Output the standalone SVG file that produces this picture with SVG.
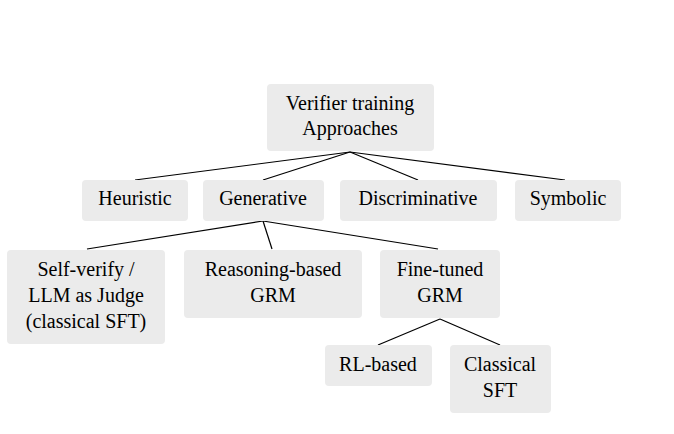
<svg xmlns="http://www.w3.org/2000/svg" width="674" height="434" viewBox="0 0 674 434">
<style>
rect{fill:#ebebeb;stroke:none}
text{font-family:"Liberation Serif",serif;font-size:20px;fill:#000;text-anchor:middle}
.c line{stroke:#000;stroke-width:1.2}
</style>
<rect width="674" height="434" fill="#fff" style="fill:#fff"/>
<g class="c">
<line x1="350" y1="152" x2="135" y2="180"/>
<line x1="350" y1="152" x2="263" y2="180"/>
<line x1="350" y1="152" x2="418" y2="180"/>
<line x1="350" y1="152" x2="565" y2="180"/>
<line x1="263" y1="221" x2="87" y2="249"/>
<line x1="263" y1="221" x2="272" y2="249"/>
<line x1="263" y1="221" x2="438" y2="249"/>
<line x1="440" y1="319" x2="378" y2="345"/>
<line x1="440" y1="319" x2="500" y2="345"/>
</g>
<g id="root"><rect x="267" y="84" width="167" height="67" rx="4"/><text x="350" y="110">Verifier training</text><text x="350" y="135">Approaches</text></g>
<g id="heuristic"><rect x="82" y="180" width="106" height="41" rx="4"/><text x="135" y="205">Heuristic</text></g>
<g id="generative"><rect x="203" y="180" width="121" height="41" rx="4"/><text x="263" y="205">Generative</text></g>
<g id="discriminative"><rect x="340" y="180" width="157" height="41" rx="4"/><text x="418" y="205">Discriminative</text></g>
<g id="symbolic"><rect x="515" y="180" width="106" height="41" rx="4"/><text x="568" y="205">Symbolic</text></g>
<g id="selfverify"><rect x="7" y="250" width="158" height="94" rx="4"/><text x="86" y="276">Self-verify /</text><text x="86" y="302">LLM as Judge</text><text x="86" y="328">(classical SFT)</text></g>
<g id="reasoning"><rect x="184" y="250" width="178" height="68" rx="4"/><text x="273" y="276">Reasoning-based</text><text x="273" y="302">GRM</text></g>
<g id="finetuned"><rect x="380" y="250" width="120" height="68" rx="4"/><text x="440" y="276">Fine-tuned</text><text x="440" y="302">GRM</text></g>
<g id="rl"><rect x="325" y="345" width="107" height="41" rx="4"/><text x="378" y="371">RL-based</text></g>
<g id="classical"><rect x="450" y="345" width="101" height="68" rx="4"/><text x="500" y="371">Classical</text><text x="500" y="397">SFT</text></g>
</svg>
